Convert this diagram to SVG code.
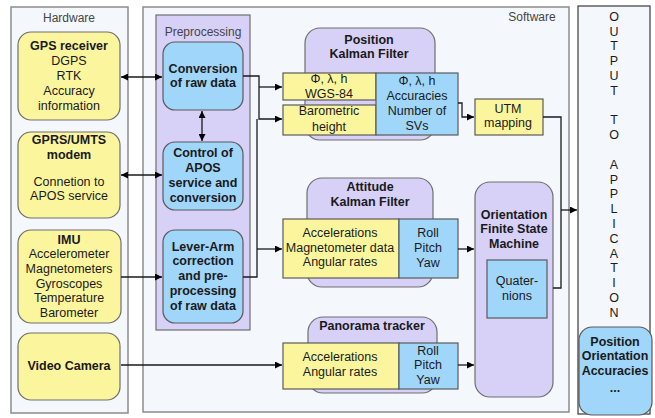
<svg xmlns="http://www.w3.org/2000/svg" width="655" height="418" viewBox="0 0 655 418">
  <defs>
    <marker id="arr" viewBox="0 0 10 10" refX="10" refY="5" markerWidth="8" markerHeight="7" markerUnits="userSpaceOnUse" orient="auto-start-reverse">
      <path d="M0,0 L10,5 L0,10 z" fill="#000"/>
    </marker>
    <style>
      .panel { fill: #f4f8fd; stroke: #8c8c8c; stroke-width: 1.5; }
      .hw { fill: #fbf69e; stroke: #6e6e6e; stroke-width: 1.2; }
      .yel { fill: #fbf69e; stroke: #5a5a5a; stroke-width: 1.2; }
      .blu { fill: #9fd6fa; stroke: #5a5a5a; stroke-width: 1.2; }
      .pur { fill: #d7d1f8; stroke: #6e6e6e; stroke-width: 1.2; }
      text { font-family: "Liberation Sans", Arial, sans-serif; font-size: 12.5px; fill: #1a1a1a; text-anchor: middle; }
      .b { font-weight: bold; }
      .lbl { fill: #444; font-size: 12px; }
      .conn path { fill: none; stroke: #1a1a1a; stroke-width: 1.3; }
    </style>
  </defs>

  <!-- background panels -->
  <g id="hardware">
    <rect class="panel" x="11" y="7" width="117" height="406"/>
    <text class="lbl" x="69" y="22">Hardware</text>
  </g>
  <g id="software">
    <rect class="panel" x="143" y="7" width="426" height="405"/>
    <text class="lbl" x="532" y="21">Software</text>
  </g>
  <g id="output">
    <rect x="578" y="6" width="72" height="408" fill="#f4f8fd" stroke="#3a3a3a" stroke-width="1.2"/>
    <g class="lbl" style="font-size:12px">
      <text x="614" y="21">O</text>
      <text x="614" y="36">U</text>
      <text x="614" y="50">T</text>
      <text x="614" y="65">P</text>
      <text x="614" y="80">U</text>
      <text x="614" y="95">T</text>
      <text x="614" y="124">T</text>
      <text x="614" y="139">O</text>
      <text x="614" y="169">A</text>
      <text x="614" y="184">P</text>
      <text x="614" y="198">P</text>
      <text x="614" y="213">L</text>
      <text x="614" y="228">I</text>
      <text x="614" y="243">C</text>
      <text x="614" y="258">A</text>
      <text x="614" y="272">T</text>
      <text x="614" y="287">I</text>
      <text x="614" y="302">O</text>
      <text x="614" y="317">N</text>
    </g>
  </g>

  <!-- hardware nodes -->
  <g id="gps">
    <rect class="hw" x="18" y="32" width="102" height="88" rx="13"/>
    <text class="b" x="69" y="50">GPS receiver</text>
    <text x="69" y="65">DGPS</text>
    <text x="69" y="80">RTK</text>
    <text x="69" y="95">Accuracy</text>
    <text x="69" y="110">information</text>
  </g>
  <g id="gprs">
    <rect class="hw" x="18" y="132" width="102" height="86" rx="13"/>
    <text class="b" x="69" y="144">GPRS/UMTS</text>
    <text class="b" x="69" y="159">modem</text>
    <text x="69" y="186">Connetion to</text>
    <text x="69" y="200">APOS service</text>
  </g>
  <g id="imu">
    <rect class="hw" x="18" y="230" width="103" height="93" rx="13"/>
    <text class="b" x="69" y="244">IMU</text>
    <text x="69" y="258">Accelerometer</text>
    <text x="69" y="273">Magnetometers</text>
    <text x="69" y="288">Gyroscopes</text>
    <text x="69" y="302">Temperature</text>
    <text x="69" y="317">Barometer</text>
  </g>
  <g id="camera">
    <rect class="hw" x="18" y="333" width="102" height="67" rx="13"/>
    <text class="b" x="69" y="370">Video Camera</text>
  </g>

  <!-- preprocessing -->
  <g id="preprocessing">
    <rect class="pur" x="156" y="15" width="94" height="315"/>
    <text class="lbl" x="203" y="36">Preprocessing</text>
  </g>
  <g id="conversion">
    <rect class="blu" x="163" y="42" width="80" height="68" rx="12"/>
    <text class="b" x="203" y="73">Conversion</text>
    <text class="b" x="203" y="87">of raw data</text>
  </g>
  <g id="control">
    <rect class="blu" x="163" y="142" width="80" height="68" rx="12"/>
    <text class="b" x="203" y="157">Control of</text>
    <text class="b" x="203" y="172">APOS</text>
    <text class="b" x="203" y="187">service and</text>
    <text class="b" x="203" y="202">conversion</text>
  </g>
  <g id="leverarm">
    <rect class="blu" x="163" y="230" width="80" height="93" rx="12"/>
    <text class="b" x="203" y="251">Lever-Arm</text>
    <text class="b" x="203" y="265">correction</text>
    <text class="b" x="203" y="280">and pre-</text>
    <text class="b" x="203" y="295">processing</text>
    <text class="b" x="203" y="310">of raw data</text>
  </g>

  <!-- position kalman filter -->
  <g id="position-kf">
    <rect class="pur" x="305" y="28" width="130" height="112" rx="15"/>
    <text class="b" x="369" y="44">Position</text>
    <text class="b" x="369" y="58">Kalman Filter</text>
    <rect class="yel" x="283" y="73" width="93" height="27"/>
    <text x="329" y="83">Φ, λ, h</text>
    <text x="329" y="98">WGS-84</text>
    <rect class="yel" x="283" y="105" width="93" height="30"/>
    <text x="329" y="115">Barometric</text>
    <text x="329" y="131">height</text>
    <rect class="blu" x="376" y="73" width="82" height="62"/>
    <text x="417" y="85">Φ, λ, h</text>
    <text x="417" y="100">Accuracies</text>
    <text x="417" y="115">Number of</text>
    <text x="417" y="130">SVs</text>
  </g>
  <g id="utm">
    <rect class="yel" x="475" y="99" width="68" height="36"/>
    <text x="508" y="113">UTM</text>
    <text x="508" y="127">mapping</text>
  </g>

  <!-- attitude kalman filter -->
  <g id="attitude-kf">
    <rect class="pur" x="307" y="178" width="126" height="109" rx="15"/>
    <text class="b" x="370" y="191">Attitude</text>
    <text class="b" x="370" y="206">Kalman Filter</text>
    <rect class="yel" x="283" y="219" width="116" height="59"/>
    <text x="340" y="237">Accelerations</text>
    <text x="340" y="252">Magnetometer data</text>
    <text x="340" y="266">Angular rates</text>
    <rect class="blu" x="399" y="219" width="59" height="59"/>
    <text x="428" y="237">Roll</text>
    <text x="428" y="252">Pitch</text>
    <text x="428" y="267">Yaw</text>
  </g>

  <!-- panorama tracker -->
  <g id="panorama">
    <rect class="pur" x="308" y="317" width="129" height="76" rx="15"/>
    <text class="b" x="372" y="330">Panorama tracker</text>
    <rect class="yel" x="283" y="343" width="116" height="46"/>
    <text x="340" y="361">Accelerations</text>
    <text x="340" y="376">Angular rates</text>
    <rect class="blu" x="399" y="343" width="59" height="46"/>
    <text x="428" y="355">Roll</text>
    <text x="428" y="369">Pitch</text>
    <text x="428" y="384">Yaw</text>
  </g>

  <!-- orientation state machine -->
  <g id="orientation-fsm">
    <rect class="pur" x="475" y="182" width="78" height="215" rx="15"/>
    <text class="b" x="514" y="219">Orientation</text>
    <text class="b" x="514" y="233">Finite State</text>
    <text class="b" x="514" y="248">Machine</text>
    <rect class="blu" x="487" y="260" width="60" height="58"/>
    <text x="517" y="285">Quater-</text>
    <text x="517" y="300">nions</text>
  </g>

  <!-- output values -->
  <g id="output-values">
    <rect class="blu" x="579" y="327" width="73" height="88" rx="13"/>
    <text class="b" x="615" y="346">Position</text>
    <text class="b" x="615" y="360">Orientation</text>
    <text class="b" x="615" y="375">Accuracies</text>
    <text class="b" x="615" y="392">...</text>
  </g>

  <!-- connectors -->
  <g class="conn" id="connectors">
    <path d="M121,77 H162" marker-start="url(#arr)" marker-end="url(#arr)"/>
    <path d="M121,175 H162" marker-start="url(#arr)" marker-end="url(#arr)"/>
    <path d="M121,277 H162" marker-end="url(#arr)"/>
    <path d="M121,365 H282" marker-end="url(#arr)"/>
    <path d="M202,111 V141" marker-start="url(#arr)" marker-end="url(#arr)"/>
    <path d="M243,76 H259 V119 H282" marker-end="url(#arr)"/>
    <path d="M259,87 H282" marker-end="url(#arr)"/>
    <path d="M243,277 H257 V119"/>
    <path d="M257,249 H282" marker-end="url(#arr)"/>
    <path d="M458,103 H462 V117 H474" marker-end="url(#arr)"/>
    <path d="M543,117 H561 V288 H553"/>
    <path d="M561,210 H577" marker-end="url(#arr)"/>
    <path d="M458,249 H474" marker-end="url(#arr)"/>
    <path d="M458,365 H474" marker-end="url(#arr)"/>
  </g>
</svg>
